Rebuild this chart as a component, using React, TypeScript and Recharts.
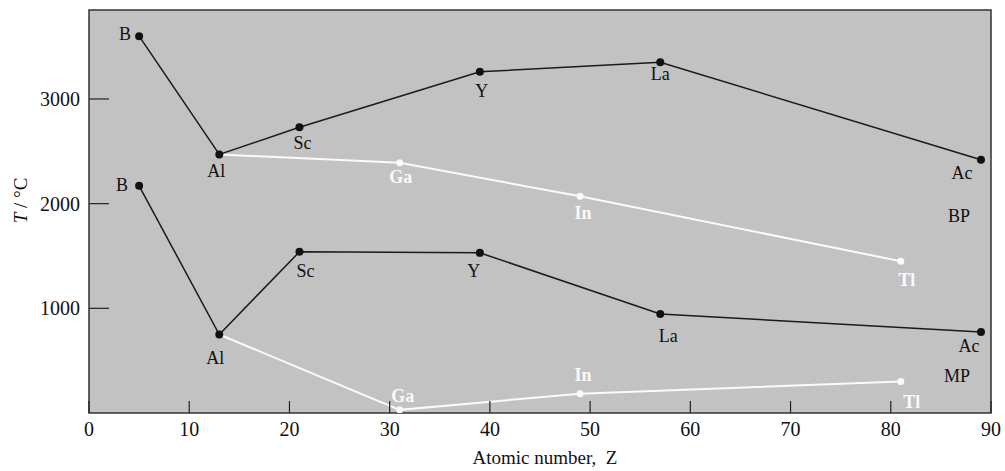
import React from "react";
import {
  LineChart,
  Line,
  XAxis,
  YAxis,
  CartesianGrid,
  ReferenceArea,
  ReferenceDot,
  LabelList,
  Label,
} from "recharts";

// group 3 elements (black lines)
const group3Names = ["B", "Al", "Sc", "Y", "La", "Ac"];
const group3Z = [5, 13, 21, 39, 57, 89];
const group3Bp = [3600, 2470, 2730, 3260, 3350, 2420];
const group3Mp = [2170, 750, 1540, 1530, 945, 775];

// group 13 elements (white lines, start at Al)
const group13Names = ["Al", "Ga", "In", "Tl"];
const group13Z = [13, 31, 49, 81];
const group13Bp = [2470, 2390, 2070, 1450];
const group13Mp = [750, 30, 185, 300];

const xTicks = [0, 10, 20, 30, 40, 50, 60, 70, 80, 90];
const yTicks = [1000, 2000, 3000];

// label placement: [dx, dy, anchor], null = no label
type Place = [number, number, string] | null;
const group3BpPlace: Place[] = [
  [-8, 4, "end"],
  [-3, 23, "middle"],
  [3, 22, "middle"],
  [2, 25, "middle"],
  [0, 18, "middle"],
  [-19, 19, "middle"],
];
const group3MpPlace: Place[] = [
  [-11, 5, "end"],
  [-4, 30, "middle"],
  [6, 25, "middle"],
  [-6, 24, "middle"],
  [8, 28, "middle"],
  [-12, 20, "middle"],
];
const group13BpPlace: Place[] = [null, [1, 20, "middle"], [3, 23, "middle"], [6, 25, "middle"]];
const group13MpPlace: Place[] = [null, [3, -8, "middle"], [3, -13, "middle"], [11, 26, "middle"]];

const serif = "'Liberation Serif', 'DejaVu Serif', serif";

const toRows = (names: string[], z: number[], t: number[]) =>
  names.map((name, i) => ({ name, z: z[i], t: t[i] }));

const bp3 = toRows(group3Names, group3Z, group3Bp);
const mp3 = toRows(group3Names, group3Z, group3Mp);
const bp13 = toRows(group13Names, group13Z, group13Bp);
const mp13 = toRows(group13Names, group13Z, group13Mp);

const makeLabel = (place: Place[], color: string, bold: boolean) => (props: any) => {
  const { x, y, value, index } = props;
  const p = place[index];
  if (!p) return null;
  return (
    <text
      x={x + p[0]}
      y={y + p[1]}
      textAnchor={p[2] as any}
      fill={color}
      fontSize={18}
      fontFamily={serif}
      fontWeight={bold ? "bold" : "normal"}
    >
      {value}
    </text>
  );
};

const YTitle = (props: any) => {
  const { viewBox } = props;
  const cx = viewBox.x - 2;
  const cy = viewBox.y + viewBox.height / 2 - 11;
  return (
    <text
      x={cx}
      y={cy}
      transform={`rotate(-90 ${cx} ${cy})`}
      textAnchor="middle"
      fontSize={19}
      fontFamily={serif}
      fill="#111"
    >
      <tspan fontStyle="italic">T</tspan>
      <tspan> / °C</tspan>
    </text>
  );
};

const XTitle = (props: any) => {
  const { viewBox } = props;
  return (
    <text
      x={viewBox.x + viewBox.width / 2 + 5}
      y={viewBox.y + 51}
      textAnchor="middle"
      fontSize={19}
      fontFamily={serif}
      fill="#111"
      style={{ whiteSpace: "pre" }}
    >
      {"Atomic number,  Z"}
    </text>
  );
};

const App: React.FC = () => {
  return (
    <div style={{ position: "absolute", left: 0, top: 0 }}>
      <LineChart
        width={1005}
        height={471}
        margin={{ top: 10, right: 14, bottom: 28, left: 29 }}
      >
        <CartesianGrid horizontal={false} vertical={false} fill="#c2c2c2" fillOpacity={1} />
        <ReferenceArea
          x1={0}
          x2={90}
          y1={0}
          y2={3850}
          fill="none"
          stroke="#333"
          strokeWidth={1.5}
        />
        <XAxis
          type="number"
          dataKey="z"
          domain={[0, 90]}
          ticks={xTicks}
          allowDataOverflow
          axisLine={false}
          tickSize={-12}
          tickMargin={21}
          tickLine={{ stroke: "#222", strokeWidth: 1.2 }}
          tick={{ fill: "#111", fontSize: 20, fontFamily: serif }}
          height={30}
        >
          <Label content={XTitle} />
        </XAxis>
        <YAxis
          type="number"
          domain={[0, 3850]}
          ticks={yTicks}
          allowDataOverflow
          axisLine={false}
          tickSize={-20}
          tickMargin={29}
          tickLine={{ stroke: "#222", strokeWidth: 1.2 }}
          tick={{ fill: "#111", fontSize: 20, fontFamily: serif }}
          width={60}
        >
          <Label content={YTitle} />
        </YAxis>

        <Line
          data={bp13}
          dataKey="t"
          type="linear"
          stroke="#fafafa"
          strokeWidth={2}
          dot={{ r: 3.5, fill: "#fafafa", stroke: "none" }}
          isAnimationActive={false}
        >
          <LabelList dataKey="name" content={makeLabel(group13BpPlace, "#fafafa", true)} />
        </Line>
        <Line
          data={mp13}
          dataKey="t"
          type="linear"
          stroke="#fafafa"
          strokeWidth={2}
          dot={{ r: 3.5, fill: "#fafafa", stroke: "none" }}
          isAnimationActive={false}
        >
          <LabelList dataKey="name" content={makeLabel(group13MpPlace, "#fafafa", true)} />
        </Line>
        <Line
          data={bp3}
          dataKey="t"
          type="linear"
          stroke="#1a1a1a"
          strokeWidth={1.5}
          dot={{ r: 4, fill: "#111", stroke: "none" }}
          isAnimationActive={false}
        >
          <LabelList dataKey="name" content={makeLabel(group3BpPlace, "#111", false)} />
        </Line>
        <Line
          data={mp3}
          dataKey="t"
          type="linear"
          stroke="#1a1a1a"
          strokeWidth={1.5}
          dot={{ r: 4, fill: "#111", stroke: "none" }}
          isAnimationActive={false}
        >
          <LabelList dataKey="name" content={makeLabel(group3MpPlace, "#111", false)} />
        </Line>

        <ReferenceDot
          x={86.8}
          y={1890}
          r={0}
          fill="none"
          stroke="none"
          label={{ value: "BP", position: "center", fill: "#111", fontSize: 18, fontFamily: serif }}
        />
        <ReferenceDot
          x={86.6}
          y={355}
          r={0}
          fill="none"
          stroke="none"
          label={{ value: "MP", position: "center", fill: "#111", fontSize: 18, fontFamily: serif }}
        />
      </LineChart>
    </div>
  );
};

export default App;
